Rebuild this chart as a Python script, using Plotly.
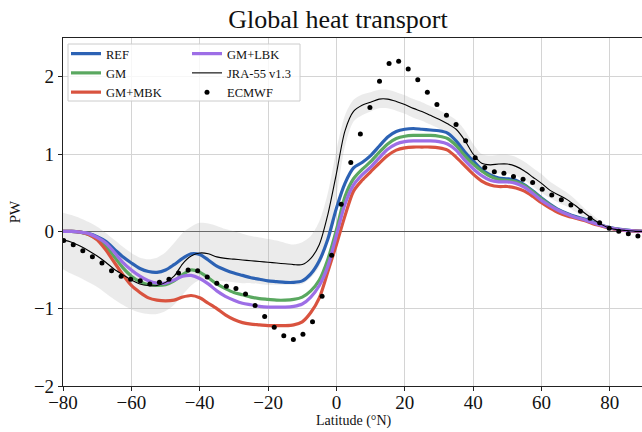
import plotly.graph_objects as go

# ---------------- data ----------------
lat = [-80, -77.5, -75, -72.5, -70, -67.5, -65, -62.5, -60, -57.5, -55, -52.5, -50, -47.5,
       -45, -42.5, -40, -37.5, -35, -32.5, -30, -27.5, -25, -22.5, -20, -17.5, -15, -12.5,
       -10, -7.5, -5, -2.5, 0, 2.5, 5, 7.5, 10, 12.5, 15, 17.5, 20, 22.5, 25, 27.5, 30, 32.5,
       35, 37.5, 40, 42.5, 45, 47.5, 50, 52.5, 55, 57.5, 60, 62.5, 65, 67.5, 70, 72.5, 75,
       77.5, 80, 82.5, 85, 87.5, 90]

ref = [0, 0, -0.01, -0.03, -0.07, -0.13, -0.23, -0.33, -0.41, -0.48, -0.52, -0.53, -0.5, -0.43,
       -0.35, -0.29, -0.3, -0.37, -0.45, -0.5, -0.54, -0.57, -0.6, -0.62, -0.64, -0.65, -0.66, -0.66,
       -0.64, -0.55, -0.38, -0.1, 0.3, 0.62, 0.82, 0.89, 0.98, 1.1, 1.22, 1.29, 1.32, 1.33, 1.32, 1.31,
       1.3, 1.27, 1.17, 1.03, 0.91, 0.8, 0.73, 0.69, 0.68, 0.66, 0.6, 0.52, 0.43, 0.35, 0.28, 0.23,
       0.19, 0.16, 0.12, 0.08, 0.05, 0.03, 0.015, 0.005, 0]

gm = [0, 0, -0.01, -0.04, -0.1, -0.19, -0.33, -0.47, -0.58, -0.65, -0.69, -0.7, -0.69, -0.64,
      -0.56, -0.5, -0.53, -0.6, -0.68, -0.74, -0.79, -0.82, -0.85, -0.87, -0.88, -0.89, -0.89, -0.88,
      -0.85, -0.77, -0.63, -0.36, 0.02, 0.45, 0.68, 0.8, 0.9, 1.02, 1.13, 1.2, 1.23, 1.24, 1.24, 1.24,
      1.23, 1.2, 1.11, 0.98, 0.87, 0.78, 0.71, 0.67, 0.66, 0.64, 0.59, 0.51, 0.42, 0.34, 0.27, 0.22,
      0.18, 0.15, 0.11, 0.075, 0.045, 0.025, 0.012, 0.004, 0]

gm_mbk = [0, 0, -0.01, -0.04, -0.11, -0.24, -0.4, -0.56, -0.7, -0.79, -0.86, -0.89, -0.9, -0.89,
          -0.85, -0.83, -0.86, -0.93, -1.0, -1.08, -1.14, -1.18, -1.2, -1.21, -1.22, -1.22, -1.22,
          -1.21, -1.17, -1.05, -0.86, -0.52, -0.17, 0.2, 0.52, 0.66, 0.77, 0.88, 0.98, 1.05, 1.08,
          1.09, 1.09, 1.09, 1.08, 1.05, 0.96, 0.85, 0.74, 0.65, 0.6, 0.58, 0.58, 0.56, 0.52, 0.45,
          0.37, 0.3, 0.24, 0.2, 0.17, 0.14, 0.1, 0.07, 0.04, 0.02, 0.01, 0.003, 0]

gm_lbk = [0, 0, -0.01, -0.03, -0.08, -0.15, -0.27, -0.4, -0.5, -0.58, -0.64, -0.67, -0.67, -0.63,
          -0.58, -0.57, -0.61, -0.68, -0.77, -0.84, -0.89, -0.93, -0.95, -0.97, -0.98, -0.98, -0.98,
          -0.97, -0.94, -0.85, -0.7, -0.45, -0.05, 0.35, 0.6, 0.73, 0.83, 0.95, 1.06, 1.13, 1.16,
          1.17, 1.17, 1.17, 1.16, 1.13, 1.05, 0.92, 0.81, 0.72, 0.66, 0.64, 0.64, 0.62, 0.57, 0.49,
          0.4, 0.33, 0.27, 0.22, 0.18, 0.15, 0.11, 0.075, 0.045, 0.025, 0.012, 0.004, 0]

jra = [-0.11, -0.14, -0.19, -0.25, -0.32, -0.4, -0.49, -0.56, -0.63, -0.68, -0.7, -0.7, -0.66, -0.58,
       -0.42, -0.32, -0.28, -0.29, -0.33, -0.35, -0.36, -0.37, -0.38, -0.39, -0.4, -0.41, -0.42, -0.43,
       -0.43, -0.35, -0.17, 0.22, 0.75, 1.3, 1.55, 1.63, 1.67, 1.71, 1.71, 1.68, 1.64, 1.59, 1.55, 1.5,
       1.45, 1.39, 1.32, 1.18, 1.0, 0.88, 0.86, 0.87, 0.87, 0.84, 0.78, 0.7, 0.62, 0.53, 0.47, 0.41,
       0.33, 0.24, 0.16, 0.09, 0.04, 0.02, 0.01, 0.0, 0.0]

jra_upper = [0.24, 0.21, 0.17, 0.12, 0.06, -0.02, -0.11, -0.2, -0.28, -0.34, -0.36, -0.34, -0.27, -0.15,
             -0.02, 0.06, 0.11, 0.1, 0.07, 0.03, 0.0, -0.03, -0.06, -0.08, -0.1, -0.12, -0.15, -0.17,
             -0.14, -0.06, 0.13, 0.5, 1.05, 1.5, 1.7, 1.77, 1.8, 1.83, 1.83, 1.8, 1.76, 1.71, 1.67, 1.62,
             1.57, 1.51, 1.44, 1.31, 1.13, 1.0, 0.98, 0.99, 0.99, 0.96, 0.9, 0.82, 0.74, 0.64, 0.57, 0.5,
             0.41, 0.3, 0.21, 0.12, 0.06, 0.03, 0.01, 0.0, 0.0]

jra_lower = [-0.49, -0.55, -0.6, -0.66, -0.72, -0.8, -0.88, -0.95, -1.01, -1.05, -1.07, -1.07, -1.03,
             -0.95, -0.82, -0.7, -0.63, -0.62, -0.64, -0.65, -0.66, -0.67, -0.67, -0.68, -0.69, -0.69,
             -0.69, -0.69, -0.68, -0.6, -0.45, -0.1, 0.45, 1.1, 1.42, 1.5, 1.55, 1.59, 1.59, 1.56, 1.52,
             1.47, 1.43, 1.38, 1.33, 1.27, 1.2, 1.05, 0.88, 0.76, 0.74, 0.75, 0.75, 0.72, 0.66, 0.58,
             0.5, 0.43, 0.37, 0.32, 0.25, 0.18, 0.11, 0.06, 0.02, 0.01, 0.0, 0.0, 0.0]

ecmwf_lat = [-79.8, -77.0, -74.2, -71.4, -68.6, -65.8, -63.0, -60.2, -57.4, -54.6, -51.8, -49.0,
             -46.2, -43.4, -40.6, -37.8, -35.0, -32.2, -29.4, -26.6, -23.8, -21.0, -18.2, -15.4,
             -12.6, -9.8, -7.0, -4.2, -1.4, 1.4, 4.2, 7.0, 9.8, 12.6, 15.4, 18.2, 21.0, 23.8, 26.6,
             29.4, 32.2, 35.0, 37.8, 40.6, 43.4, 46.2, 49.0, 51.8, 54.6, 57.4, 60.2, 63.0, 65.8,
             68.6, 71.4, 74.2, 77.0, 79.8, 82.6, 85.4, 88.2]
ecmwf = [-0.12, -0.175, -0.25, -0.33, -0.41, -0.51, -0.58, -0.62, -0.64, -0.68, -0.66, -0.62,
         -0.54, -0.5, -0.51, -0.59, -0.67, -0.71, -0.74, -0.81, -0.96, -1.1, -1.24, -1.35, -1.4,
         -1.33, -1.17, -0.84, -0.31, 0.35, 0.89, 1.26, 1.6, 1.94, 2.17, 2.2, 2.1, 1.96, 1.8, 1.64,
         1.5, 1.38, 1.17, 0.95, 0.825, 0.77, 0.75, 0.71, 0.675, 0.63, 0.545, 0.47, 0.41, 0.34,
         0.26, 0.17, 0.11, 0.04, 0.0, -0.03, -0.06]

x_ticks = [-80, -60, -40, -20, 0, 20, 40, 60, 80]
y_ticks = [-2, -1, 0, 1, 2]

# ---------------- figure ----------------
W, H = 642, 432
L, R, T, B = 63, 0, 38, 46
pw, ph = W - L - R, H - T - B

def px_x(p):
    return (p - L) / pw

def px_y(p):
    return (H - B - p) / ph

SERIF = "Liberation Serif, DejaVu Serif, serif"

fig = go.Figure()

# uncertainty band
fig.add_trace(go.Scatter(x=lat, y=jra_upper, mode="lines", line=dict(width=0, shape="spline", smoothing=0.8),
                         showlegend=False, hoverinfo="skip"))
fig.add_trace(go.Scatter(x=lat, y=jra_lower, mode="lines", line=dict(width=0, shape="spline", smoothing=0.8),
                         fill="tonexty", fillcolor="rgba(170,170,170,0.24)", showlegend=False, hoverinfo="skip"))

series = [
    ("REF", ref, "#2c62b4", "legend"),
    ("GM", gm, "#5aa860", "legend"),
    ("GM+MBK", gm_mbk, "#d9533f", "legend"),
    ("GM+LBK", gm_lbk, "#9d6ee6", "legend2"),
]
for name, vals, col, lg in series:
    fig.add_trace(go.Scatter(x=lat, y=vals, mode="lines", name=name, legend=lg,
                             line=dict(color=col, width=3.2, shape="spline", smoothing=0.8)))

fig.add_trace(go.Scatter(x=lat, y=jra, mode="lines", name="JRA-55 v1.3", legend="legend2",
                         line=dict(color="black", width=1.1, shape="spline", smoothing=0.8)))
fig.add_trace(go.Scatter(x=ecmwf_lat, y=ecmwf, mode="markers", name="ECMWF", legend="legend2",
                         marker=dict(color="black", size=5)))

axis_common = dict(
    showgrid=True, gridcolor="#d4d4d4", gridwidth=1.2,
    showline=True, linecolor="#222", linewidth=1.2,
    ticks="outside", ticklen=4, tickcolor="#222",
    tickfont=dict(family=SERIF, size=19, color="#111"),
)

legend_common = dict(xanchor="left", yanchor="top", bgcolor="rgba(0,0,0,0)", borderwidth=0,
                     font=dict(family=SERIF, size=12.5, color="#111"), tracegroupgap=0,
                     traceorder="normal")

fig.update_layout(
    width=W, height=H,
    margin=dict(l=L, r=R, t=T, b=B),
    paper_bgcolor="white", plot_bgcolor="white",
    title=dict(text="Global heat transport", x=338 / W, xref="container", xanchor="center",
               y=1 - 19 / H, yref="container", yanchor="middle",
               font=dict(family=SERIF, size=26, color="#111")),
    xaxis=dict(range=[-80, 89.4], tickvals=x_ticks, mirror=True, zeroline=False,
               ticklabelstandoff=-5, **axis_common),
    yaxis=dict(range=[-2, 2.5], tickvals=y_ticks, zeroline=True, zerolinecolor="#555", zerolinewidth=1.2,
               title=dict(text="PW", font=dict(family=SERIF, size=15, color="#111"), standoff=9),
               **axis_common),
    legend=dict(x=px_x(66), y=px_y(39), **legend_common),
    legend2=dict(x=px_x(187), y=px_y(39), **legend_common),
    shapes=[dict(type="rect", xref="paper", yref="paper", x0=px_x(68), x1=px_x(300),
                 y0=px_y(101), y1=px_y(44), line=dict(color="#cccccc", width=1),
                 fillcolor="rgba(255,255,255,0.8)", layer="above")],
    annotations=[dict(text="Latitude (°N)", xref="paper", yref="paper", x=px_x(354), y=px_y(421),
                      xanchor="center", yanchor="middle", showarrow=False,
                      font=dict(family=SERIF, size=14, color="#111"))],
    showlegend=True,
)

fig.write_html("out.html", config={"displayModeBar": False},
               post_script="document.body.style.margin='0';document.body.style.overflow='hidden';")
